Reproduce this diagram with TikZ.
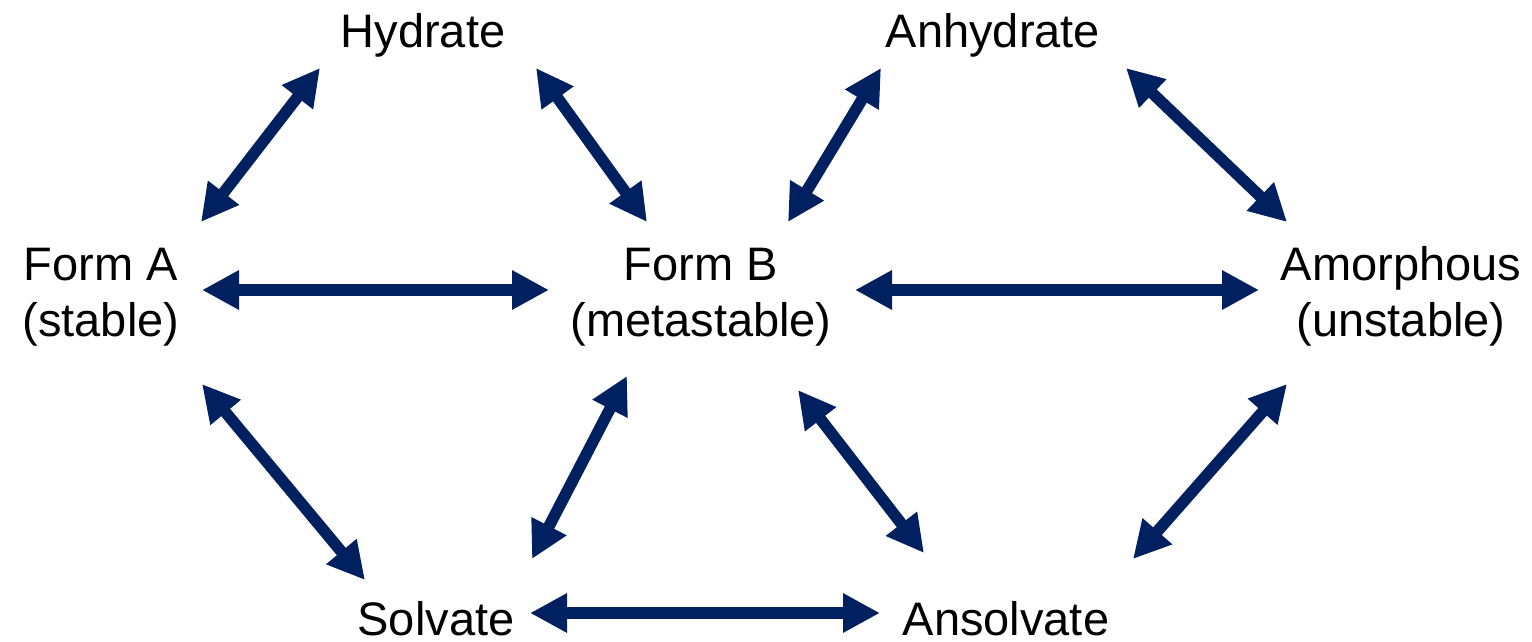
\documentclass[tikz,border=0pt]{standalone}
\usepackage{fontspec}
\setmainfont{Liberation Sans}
\usetikzlibrary{arrows.meta}
\definecolor{navy}{RGB}{0,32,96}
\tikzset{
  label/.style={font=\fontsize{47}{56}\selectfont, align=center, anchor=base, inner sep=0pt, text=black},
  arr/.style={draw=navy, line width=11.5pt,
    {Triangle[length=37pt,width=37pt,fill=navy]}-{Triangle[length=37pt,width=37pt,fill=navy]}}
}
\begin{document}
\begin{tikzpicture}[x=1pt,y=-1pt]
  \useasboundingbox[fill=white] (0,0) rectangle (1532,642);

  % states (two-line labels are anchored at the baseline of their last line)
  \node[label] (hydrate)   at (423,48)  {Hydrate};
  \node[label] (anhydrate) at (993,48)  {Anhydrate};
  \node[label] (formA)     at (101,336) {Form A\\(stable)};
  \node[label] (formB)     at (701,336) {Form B\\(metastable)};
  \node[label] (amorph)    at (1401,336){Amorphous\\(unstable)};
  \node[label] (solvate)   at (436,635) {Solvate};
  \node[label] (ansolvate) at (1006,635){Ansolvate};

  % arrow ends
  \coordinate (AB1) at (202,290);  \coordinate (AB2) at (549,290);
  \coordinate (BM1) at (855,290);  \coordinate (BM2) at (1259,290);
  \coordinate (SN1) at (530,613);  \coordinate (SN2) at (880,613);
  \coordinate (AH1) at (201,222);  \coordinate (AH2) at (320,68);
  \coordinate (HB1) at (536,68);   \coordinate (HB2) at (647,222);
  \coordinate (BY1) at (788,222);  \coordinate (BY2) at (881,68);
  \coordinate (YM1) at (1126,68);  \coordinate (YM2) at (1287,222);
  \coordinate (AS1) at (202,384);  \coordinate (AS2) at (365,580);
  \coordinate (BS1) at (627,376);  \coordinate (BS2) at (532,559);
  \coordinate (BN1) at (798,390);  \coordinate (BN2) at (924,553);
  \coordinate (MN1) at (1287,384); \coordinate (MN2) at (1133,559);

  % transitions
  \draw[arr] (AB1) -- (AB2);
  \draw[arr] (BM1) -- (BM2);
  \draw[arr] (SN1) -- (SN2);
  \draw[arr] (AH1) -- (AH2);
  \draw[arr] (HB1) -- (HB2);
  \draw[arr] (BY1) -- (BY2);
  \draw[arr] (YM1) -- (YM2);
  \draw[arr] (AS1) -- (AS2);
  \draw[arr] (BS1) -- (BS2);
  \draw[arr] (BN1) -- (BN2);
  \draw[arr] (MN1) -- (MN2);
\end{tikzpicture}
\end{document}
